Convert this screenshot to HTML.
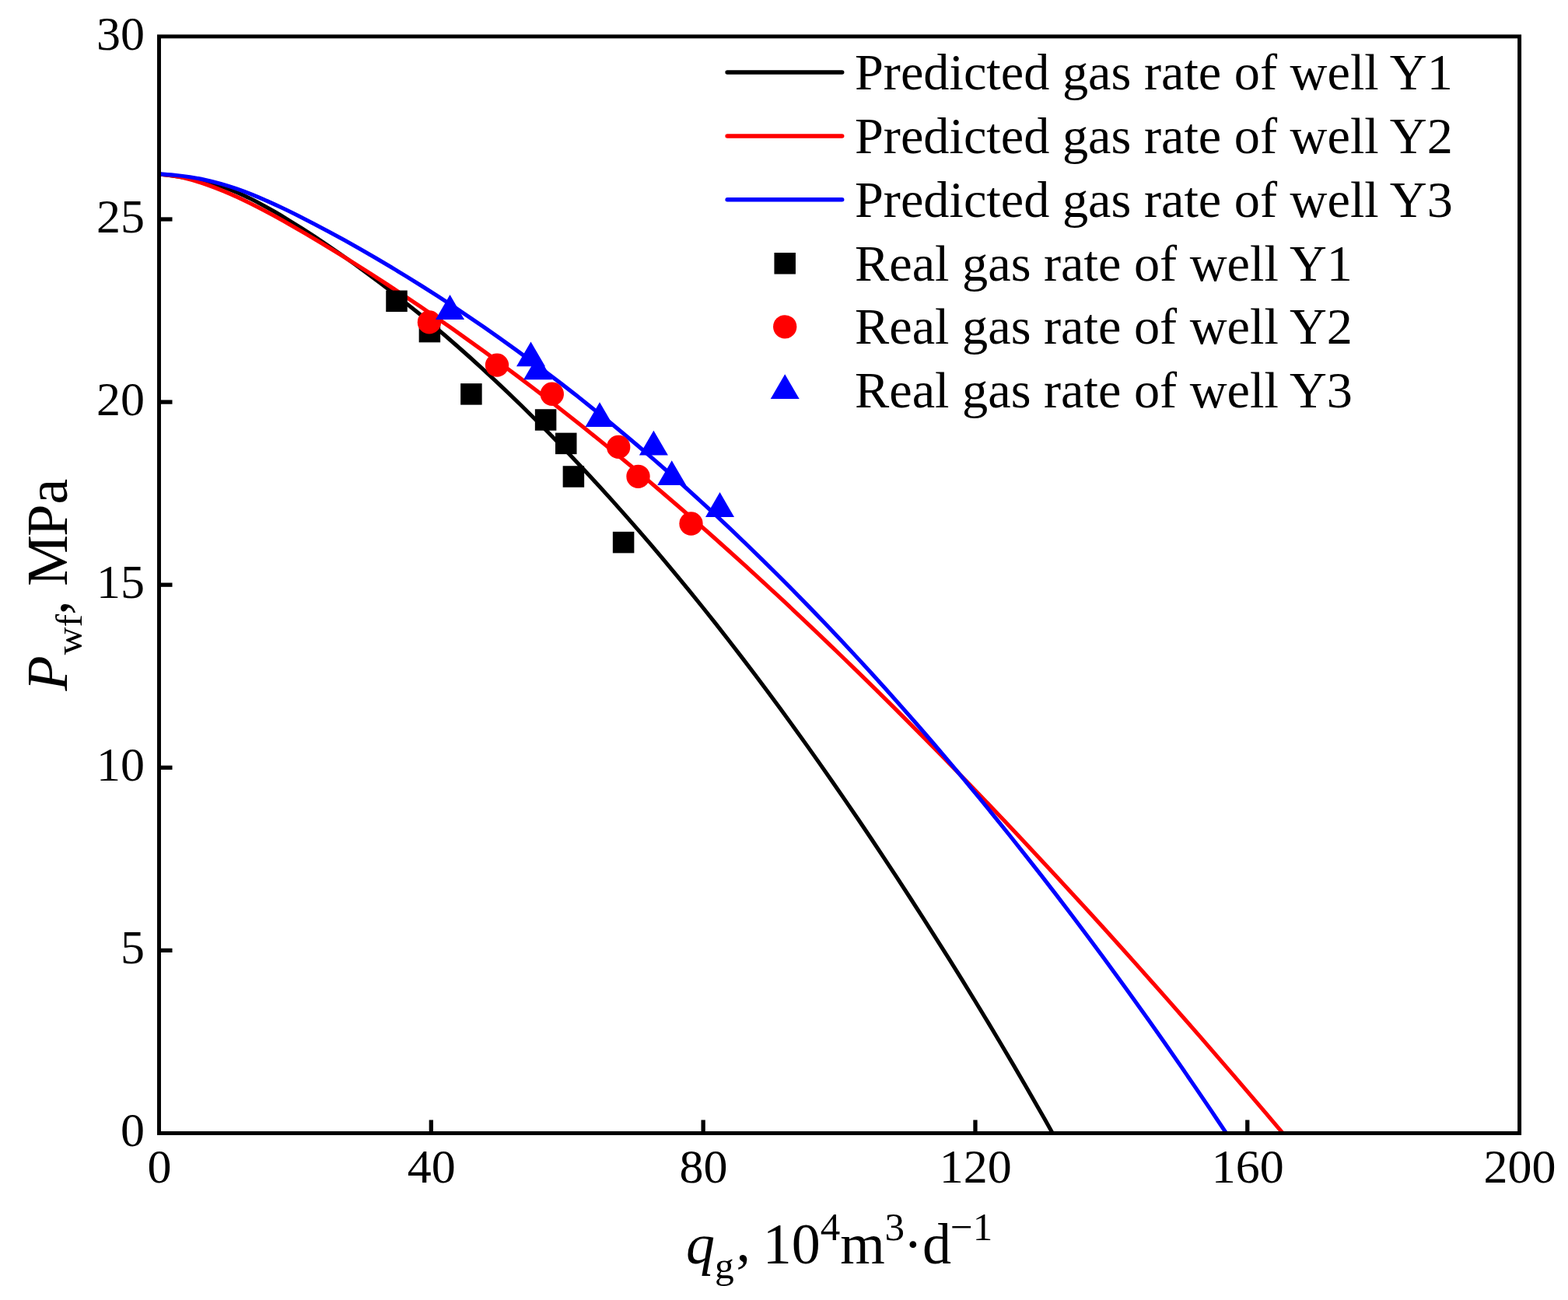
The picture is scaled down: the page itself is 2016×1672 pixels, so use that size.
<!DOCTYPE html>
<html lang="en"><head><meta charset="utf-8"><title>Gas rate prediction</title>
<style>html,body{margin:0;padding:0;background:#fff}body{width:2016px;height:1672px;overflow:hidden}svg{display:block}text{font-family:"Liberation Serif",serif;fill:#000}</style></head><body>
<svg width="2016" height="1672" viewBox="0 0 2016 1672">
<rect width="2016" height="1672" fill="#fff"/>
<defs><clipPath id="pc"><rect x="204.50" y="46.90" width="1749.10" height="1410.55"/></clipPath></defs>
<g clip-path="url(#pc)" fill="none" stroke-width="5.10" stroke-linejoin="round">
<path d="M198.00 223.99 C199.08 223.99 200.64 223.66 204.50 223.99 C208.36 224.32 215.60 225.26 221.15 225.99 C226.70 226.73 232.25 227.49 237.80 228.41 C243.35 229.33 248.90 230.31 254.45 231.50 C260.00 232.70 265.55 234.00 271.10 235.56 C276.65 237.11 282.20 238.86 287.75 240.83 C293.30 242.80 298.85 245.01 304.40 247.38 C309.95 249.75 315.50 252.33 321.04 255.05 C326.59 257.76 332.14 260.67 337.69 263.67 C343.24 266.67 348.79 269.83 354.34 273.06 C359.89 276.29 365.44 279.64 370.99 283.05 C376.54 286.45 382.09 289.93 387.64 293.46 C393.19 296.99 398.74 300.58 404.29 304.22 C409.84 307.86 415.39 311.56 420.94 315.31 C426.49 319.06 432.04 322.87 437.59 326.73 C443.14 330.59 448.69 334.51 454.24 338.49 C459.79 342.46 465.34 346.50 470.89 350.58 C476.44 354.67 481.99 358.81 487.54 363.02 C493.09 367.22 498.64 371.47 504.19 375.79 C509.74 380.10 515.29 384.47 520.84 388.90 C526.39 393.32 531.94 397.80 537.49 402.34 C543.04 406.88 548.59 411.48 554.13 416.13 C559.68 420.78 565.23 425.49 570.78 430.26 C576.33 435.02 581.88 439.84 587.43 444.72 C592.98 449.59 598.53 454.53 604.08 459.51 C609.63 464.50 615.18 469.54 620.73 474.64 C626.28 479.74 631.83 484.89 637.38 490.10 C642.93 495.31 648.48 500.57 654.03 505.89 C659.58 511.20 665.13 516.58 670.68 522.00 C676.23 527.43 681.78 532.91 687.33 538.45 C692.88 543.98 698.43 549.57 703.98 555.21 C709.53 560.86 715.08 566.56 720.63 572.31 C726.18 578.06 731.73 583.86 737.28 589.72 C742.83 595.58 748.38 601.49 753.93 607.46 C759.48 613.42 765.03 619.44 770.58 625.51 C776.13 631.59 781.67 637.71 787.22 643.89 C792.77 650.07 798.32 656.30 803.87 662.59 C809.42 668.87 814.97 675.21 820.52 681.60 C826.07 687.99 831.62 694.44 837.17 700.94 C842.72 707.44 848.27 713.99 853.82 720.60 C859.37 727.21 864.92 733.87 870.47 740.58 C876.02 747.29 881.57 754.06 887.12 760.88 C892.67 767.70 898.22 774.58 903.77 781.51 C909.32 788.44 914.87 795.42 920.42 802.45 C925.97 809.49 931.52 816.58 937.07 823.72 C942.62 830.87 948.17 838.06 953.72 845.32 C959.27 852.57 964.82 859.87 970.37 867.23 C975.92 874.59 981.47 882.00 987.02 889.47 C992.57 896.94 998.12 904.46 1003.67 912.04 C1009.21 919.61 1014.76 927.24 1020.31 934.92 C1025.86 942.60 1031.41 950.34 1036.96 958.13 C1042.51 965.91 1048.06 973.76 1053.61 981.65 C1059.16 989.54 1064.71 997.48 1070.26 1005.48 C1075.81 1013.47 1081.36 1021.52 1086.91 1029.61 C1092.46 1037.71 1098.01 1045.86 1103.56 1054.05 C1109.11 1062.25 1114.66 1070.49 1120.21 1078.79 C1125.76 1087.08 1131.31 1095.42 1136.86 1103.82 C1142.41 1112.21 1147.96 1120.65 1153.51 1129.13 C1159.06 1137.62 1164.61 1146.16 1170.16 1154.74 C1175.71 1163.32 1181.26 1171.95 1186.81 1180.62 C1192.36 1189.29 1197.91 1198.01 1203.46 1206.78 C1209.01 1215.54 1214.56 1224.35 1220.11 1233.22 C1225.66 1242.08 1231.21 1250.99 1236.76 1259.96 C1242.30 1268.92 1247.85 1277.94 1253.40 1287.02 C1258.95 1296.09 1264.50 1305.22 1270.05 1314.42 C1275.60 1323.62 1281.15 1332.87 1286.70 1342.19 C1292.25 1351.51 1297.80 1360.89 1303.35 1370.35 C1308.90 1379.80 1314.45 1389.32 1320.00 1398.92 C1325.55 1408.52 1331.10 1418.18 1336.65 1427.92 C1342.20 1437.67 1349.53 1450.69 1353.30 1457.38 C1357.07 1464.08 1358.30 1466.30 1359.30 1468.08" stroke="#000"/>
<path d="M198.00 224.00 C199.08 224.00 199.93 223.57 204.50 224.00 C209.07 224.43 218.46 225.35 225.44 226.58 C232.42 227.81 239.40 229.47 246.38 231.37 C253.36 233.28 260.34 235.55 267.32 238.01 C274.30 240.47 281.28 243.22 288.26 246.13 C295.24 249.03 302.22 252.17 309.20 255.43 C316.18 258.70 323.16 262.16 330.13 265.72 C337.11 269.29 344.09 273.02 351.07 276.81 C358.05 280.61 365.03 284.54 372.01 288.50 C378.99 292.47 385.97 296.51 392.95 300.60 C399.93 304.69 406.91 308.84 413.89 313.03 C420.87 317.23 427.85 321.48 434.83 325.77 C441.81 330.07 448.79 334.42 455.77 338.82 C462.75 343.21 469.73 347.66 476.71 352.15 C483.69 356.63 490.67 361.17 497.65 365.75 C504.63 370.33 511.61 374.95 518.59 379.61 C525.57 384.27 532.55 388.98 539.53 393.73 C546.51 398.47 553.49 403.26 560.47 408.09 C567.44 412.92 574.42 417.79 581.40 422.70 C588.38 427.61 595.36 432.56 602.34 437.56 C609.32 442.55 616.30 447.59 623.28 452.66 C630.26 457.74 637.24 462.86 644.22 468.02 C651.20 473.18 658.18 478.38 665.16 483.62 C672.14 488.86 679.12 494.15 686.10 499.47 C693.08 504.80 700.06 510.17 707.04 515.57 C714.02 520.98 721.00 526.43 727.98 531.93 C734.96 537.42 741.94 542.95 748.92 548.53 C755.90 554.10 762.88 559.72 769.86 565.38 C776.84 571.03 783.82 576.73 790.80 582.47 C797.78 588.21 804.76 593.99 811.73 599.81 C818.71 605.63 825.69 611.49 832.67 617.39 C839.65 623.29 846.63 629.23 853.61 635.20 C860.59 641.18 867.57 647.20 874.55 653.25 C881.53 659.31 888.51 665.40 895.49 671.53 C902.47 677.66 909.45 683.82 916.43 690.03 C923.41 696.23 930.39 702.47 937.37 708.75 C944.35 715.03 951.33 721.34 958.31 727.69 C965.29 734.04 972.27 740.43 979.25 746.85 C986.23 753.27 993.21 759.73 1000.19 766.22 C1007.17 772.71 1014.15 779.24 1021.13 785.79 C1028.11 792.35 1035.09 798.95 1042.07 805.58 C1049.04 812.20 1056.02 818.86 1063.00 825.56 C1069.98 832.25 1076.96 838.98 1083.94 845.74 C1090.92 852.49 1097.90 859.29 1104.88 866.11 C1111.86 872.93 1118.84 879.79 1125.82 886.67 C1132.80 893.56 1139.78 900.48 1146.76 907.43 C1153.74 914.38 1160.72 921.36 1167.70 928.37 C1174.68 935.38 1181.66 942.42 1188.64 949.49 C1195.62 956.57 1202.60 963.67 1209.58 970.80 C1216.56 977.94 1223.54 985.10 1230.52 992.29 C1237.50 999.49 1244.48 1006.71 1251.46 1013.96 C1258.44 1021.22 1265.42 1028.50 1272.40 1035.81 C1279.38 1043.13 1286.36 1050.47 1293.33 1057.84 C1300.31 1065.21 1307.29 1072.61 1314.27 1080.04 C1321.25 1087.47 1328.23 1094.92 1335.21 1102.41 C1342.19 1109.89 1349.17 1117.41 1356.15 1124.95 C1363.13 1132.49 1370.11 1140.06 1377.09 1147.66 C1384.07 1155.26 1391.05 1162.88 1398.03 1170.54 C1405.01 1178.19 1411.99 1185.87 1418.97 1193.58 C1425.95 1201.29 1432.93 1209.02 1439.91 1216.78 C1446.89 1224.55 1453.87 1232.33 1460.85 1240.15 C1467.83 1247.97 1474.81 1255.81 1481.79 1263.68 C1488.77 1271.54 1495.75 1279.44 1502.73 1287.36 C1509.71 1295.28 1516.69 1303.22 1523.67 1311.20 C1530.64 1319.17 1537.62 1327.17 1544.60 1335.19 C1551.58 1343.21 1558.56 1351.26 1565.54 1359.33 C1572.52 1367.41 1579.50 1375.50 1586.48 1383.63 C1593.46 1391.75 1600.44 1399.90 1607.42 1408.07 C1614.40 1416.24 1621.38 1424.44 1628.36 1432.66 C1635.34 1440.88 1644.81 1452.08 1649.30 1457.39 C1653.79 1462.70 1654.30 1463.31 1655.30 1464.50" stroke="#f00"/>
<path d="M198.00 223.90 C199.08 223.90 200.10 223.66 204.50 223.90 C208.90 224.13 217.76 224.66 224.39 225.31 C231.01 225.95 237.64 226.75 244.27 227.77 C250.90 228.79 257.53 229.99 264.16 231.43 C270.79 232.86 277.41 234.51 284.04 236.39 C290.67 238.27 297.30 240.41 303.93 242.71 C310.56 245.01 317.18 247.53 323.81 250.19 C330.44 252.84 337.07 255.69 343.70 258.63 C350.33 261.57 356.96 264.66 363.58 267.82 C370.21 270.97 376.84 274.24 383.47 277.55 C390.10 280.86 396.73 284.24 403.36 287.68 C409.98 291.11 416.61 294.61 423.24 298.16 C429.87 301.72 436.50 305.33 443.13 309.00 C449.75 312.66 456.38 316.39 463.01 320.17 C469.64 323.95 476.27 327.78 482.90 331.67 C489.53 335.55 496.15 339.49 502.78 343.48 C509.41 347.47 516.04 351.51 522.67 355.59 C529.30 359.68 535.93 363.82 542.55 368.01 C549.18 372.19 555.81 376.43 562.44 380.72 C569.07 385.00 575.70 389.34 582.32 393.73 C588.95 398.11 595.58 402.55 602.21 407.04 C608.84 411.53 615.47 416.06 622.10 420.65 C628.72 425.24 635.35 429.88 641.98 434.58 C648.61 439.27 655.24 444.01 661.87 448.81 C668.50 453.60 675.12 458.45 681.75 463.35 C688.38 468.25 695.01 473.20 701.64 478.20 C708.27 483.21 714.89 488.26 721.52 493.37 C728.15 498.48 734.78 503.64 741.41 508.86 C748.04 514.07 754.67 519.34 761.29 524.67 C767.92 529.99 774.55 535.36 781.18 540.79 C787.81 546.22 794.44 551.71 801.07 557.24 C807.69 562.78 814.32 568.37 820.95 574.02 C827.58 579.66 834.21 585.36 840.84 591.11 C847.46 596.86 854.09 602.67 860.72 608.53 C867.35 614.39 873.98 620.30 880.61 626.27 C887.24 632.24 893.86 638.26 900.49 644.33 C907.12 650.41 913.75 656.54 920.38 662.72 C927.01 668.90 933.64 675.14 940.26 681.43 C946.89 687.73 953.52 694.07 960.15 700.47 C966.78 706.87 973.41 713.33 980.03 719.84 C986.66 726.34 993.29 732.91 999.92 739.53 C1006.55 746.14 1013.18 752.82 1019.81 759.54 C1026.43 766.27 1033.06 773.05 1039.69 779.88 C1046.32 786.72 1052.95 793.61 1059.58 800.55 C1066.21 807.50 1072.83 814.50 1079.46 821.55 C1086.09 828.61 1092.72 835.71 1099.35 842.88 C1105.98 850.04 1112.60 857.26 1119.23 864.53 C1125.86 871.81 1132.49 879.13 1139.12 886.52 C1145.75 893.90 1152.38 901.34 1159.00 908.83 C1165.63 916.33 1172.26 923.88 1178.89 931.49 C1185.52 939.09 1192.15 946.75 1198.78 954.47 C1205.40 962.19 1212.03 969.97 1218.66 977.80 C1225.29 985.63 1231.92 993.52 1238.55 1001.46 C1245.17 1009.40 1251.80 1017.41 1258.43 1025.46 C1265.06 1033.52 1271.69 1041.64 1278.32 1049.81 C1284.95 1057.99 1291.57 1066.22 1298.20 1074.50 C1304.83 1082.79 1311.46 1091.14 1318.09 1099.54 C1324.72 1107.95 1331.35 1116.41 1337.97 1124.93 C1344.60 1133.45 1351.23 1142.03 1357.86 1150.67 C1364.49 1159.30 1371.12 1168.00 1377.74 1176.76 C1384.37 1185.51 1391.00 1194.33 1397.63 1203.20 C1404.26 1212.07 1410.89 1221.00 1417.52 1230.00 C1424.14 1238.99 1430.77 1248.04 1437.40 1257.15 C1444.03 1266.26 1450.66 1275.44 1457.29 1284.67 C1463.92 1293.90 1470.54 1303.19 1477.17 1312.54 C1483.80 1321.90 1490.43 1331.31 1497.06 1340.78 C1503.69 1350.26 1510.31 1359.79 1516.94 1369.38 C1523.57 1378.98 1530.20 1388.64 1536.83 1398.35 C1543.46 1408.07 1550.09 1417.85 1556.71 1427.69 C1563.34 1437.53 1572.29 1450.94 1576.60 1457.40 C1580.91 1463.85 1581.60 1464.91 1582.60 1466.42" stroke="#00f"/>
</g>
<g fill="#000">
<rect x="496.25" y="373.55" width="27.50" height="27.50"/>
<rect x="538.65" y="412.85" width="27.50" height="27.50"/>
<rect x="592.15" y="493.15" width="27.50" height="27.50"/>
<rect x="687.85" y="526.25" width="27.50" height="27.50"/>
<rect x="714.00" y="556.65" width="27.50" height="27.50"/>
<rect x="723.65" y="599.25" width="27.50" height="27.50"/>
<rect x="787.85" y="683.85" width="27.50" height="27.50"/>
</g><g fill="#f00">
<circle cx="551.90" cy="414.40" r="15.15"/>
<circle cx="639.00" cy="469.60" r="15.15"/>
<circle cx="709.80" cy="506.75" r="15.15"/>
<circle cx="795.20" cy="574.90" r="15.15"/>
<circle cx="820.50" cy="612.80" r="15.15"/>
<circle cx="888.50" cy="673.50" r="15.15"/>
</g><g fill="#00f">
<polygon points="578.50,379.10 597.00,410.90 560.00,410.90"/>
<polygon points="682.50,439.40 701.00,471.20 664.00,471.20"/>
<polygon points="691.60,456.50 710.10,488.30 673.10,488.30"/>
<polygon points="771.00,517.25 789.50,549.05 752.50,549.05"/>
<polygon points="840.40,553.75 858.90,585.55 821.90,585.55"/>
<polygon points="863.70,592.30 882.20,624.10 845.20,624.10"/>
<polygon points="925.50,633.10 944.00,664.90 907.00,664.90"/>
</g>
<g stroke="#000" stroke-width="4.95" fill="none">
<rect x="204.50" y="46.90" width="1749.10" height="1410.55"/>
</g><g stroke="#000" stroke-width="5.30" fill="none">
<line x1="554.32" y1="1457.45" x2="554.32" y2="1440.45"/>
<line x1="904.14" y1="1457.45" x2="904.14" y2="1440.45"/>
<line x1="1253.96" y1="1457.45" x2="1253.96" y2="1440.45"/>
<line x1="1603.78" y1="1457.45" x2="1603.78" y2="1440.45"/>
<line x1="204.50" y1="1222.36" x2="221.50" y2="1222.36"/>
<line x1="204.50" y1="987.27" x2="221.50" y2="987.27"/>
<line x1="204.50" y1="752.18" x2="221.50" y2="752.18"/>
<line x1="204.50" y1="517.08" x2="221.50" y2="517.08"/>
<line x1="204.50" y1="281.99" x2="221.50" y2="281.99"/>
</g>
<g font-size="62" text-anchor="middle">
<text x="204.90" y="1521.00">0</text>
<text x="554.72" y="1521.00">40</text>
<text x="904.54" y="1521.00">80</text>
<text x="1254.36" y="1521.00">120</text>
<text x="1604.18" y="1521.00">160</text>
<text x="1954.00" y="1521.00">200</text>
</g><g font-size="62" text-anchor="end">
<text x="186.10" y="1474.25">0</text>
<text x="186.10" y="1239.16">5</text>
<text x="186.10" y="1004.07">10</text>
<text x="186.10" y="768.98">15</text>
<text x="186.10" y="533.88">20</text>
<text x="186.10" y="298.79">25</text>
<text x="186.10" y="63.70">30</text>
</g>
<g stroke-width="5.50" stroke-linecap="round" fill="none">
<line x1="935.10" y1="93.00" x2="1082.70" y2="93.00" stroke="#000"/>
<line x1="935.10" y1="175.00" x2="1082.70" y2="175.00" stroke="#f00"/>
<line x1="935.10" y1="256.70" x2="1082.70" y2="256.70" stroke="#00f"/>
</g>
<rect x="995.45" y="325.05" width="27.50" height="27.50" fill="#000"/>
<circle cx="1009.20" cy="420.30" r="15.15" fill="#f00"/>
<g fill="#00f"><polygon points="1009.20,481.30 1027.70,513.10 990.70,513.10"/></g>
<g font-size="66.3">
<text x="1099.00" y="115.00">Predicted gas rate of well Y1</text>
<text x="1099.00" y="197.00">Predicted gas rate of well Y2</text>
<text x="1099.00" y="278.80">Predicted gas rate of well Y3</text>
<text x="1099.00" y="360.50">Real gas rate of well Y1</text>
<text x="1099.00" y="442.30">Real gas rate of well Y2</text>
<text x="1099.00" y="524.30">Real gas rate of well Y3</text>
</g>
<text x="882" y="1624.5" font-size="74"><tspan font-style="italic">q</tspan><tspan font-size="49.58" dy="19">g</tspan><tspan dx="2.6" dy="-21.5">,</tspan><tspan dx="-2.6" dy="2.5"> 10</tspan><tspan font-size="51.06" dy="-30">4</tspan><tspan dy="30">m</tspan><tspan font-size="51.06" dx="-0.5" dy="-30">3</tspan><tspan dx="-1.5" dy="30">·d</tspan><tspan font-size="51.06" dx="-1" dy="-30">−1</tspan></text>
<text transform="translate(85.8 888.5) rotate(-90)" font-size="74"><tspan font-style="italic">P</tspan><tspan font-size="49.58" dx="1" dy="19">wf</tspan><tspan dy="-19" dx="-0.8">, M</tspan><tspan dx="-1.8">Pa</tspan></text>
</svg></body></html>
